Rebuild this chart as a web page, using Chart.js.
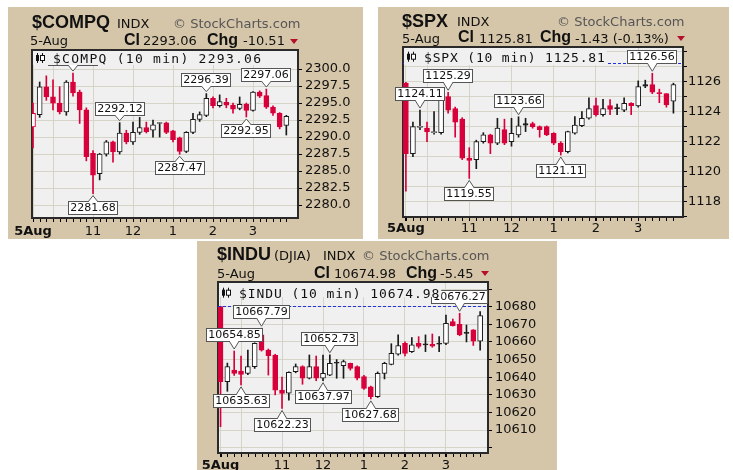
<!DOCTYPE html>
<html>
<head>
<meta charset="UTF-8">
<title>Intraday 10 min candles</title>
<script src="https://cdn.jsdelivr.net/npm/chart.js"></script>
<style>
  body { margin: 0; background: #fff; width: 733px; height: 470px; position: relative; overflow: hidden; }
  .panel { position: absolute; background: #D6C6A9; overflow: hidden; }
  .panel canvas { position: absolute; left: 0; top: 0; }
  .t { position: absolute; white-space: pre; font-family: "DejaVu Sans"; font-size: 13px; line-height: 13px; color: #111; }
  .b { font-family: "Liberation Sans", Arial; font-weight: bold; }
  .sym { font-size: 18px; line-height: 18px; }
  .lab { font-size: 16px; line-height: 16px; }
  .wm { color: #555; }
  .tri { position: absolute; width: 0; height: 0; border-left: 4px solid transparent; border-right: 4px solid transparent; border-top: 5px solid #B4102E; }
</style>
</head>
<body>

<div class="panel" style="left:8px;top:7px;width:355px;height:232px">
  <canvas id="compqChart" width="355" height="232"></canvas>
  <span class="t b sym" style="left:24px;top:6px">$COMPQ</span>
  <span class="t" style="left:109px;top:10px">INDX</span>
  <span class="t wm" style="left:165px;top:10px">© StockCharts.com</span>
  <span class="t" style="left:22px;top:27px">5-Aug</span>
  <span class="t b lab" style="left:116px;top:24.5px">Cl</span>
  <span class="t" style="left:135px;top:27px">2293.06</span>
  <span class="t b lab" style="left:199px;top:24.5px">Chg</span>
  <span class="t" style="left:235px;top:27px">-10.51</span>
  <i class="tri" style="left:282px;top:32px"></i>
</div>

<div class="panel" style="left:378px;top:7px;width:351px;height:232px">
  <canvas id="spxChart" width="351" height="232"></canvas>
  <span class="t b sym" style="left:24px;top:5px">$SPX</span>
  <span class="t" style="left:79px;top:8px">INDX</span>
  <span class="t wm" style="left:179px;top:8px">© StockCharts.com</span>
  <span class="t" style="left:24px;top:24.5px">5-Aug</span>
  <span class="t b lab" style="left:80px;top:22px">Cl</span>
  <span class="t" style="left:101px;top:24.5px">1125.81</span>
  <span class="t b lab" style="left:162px;top:22px">Chg</span>
  <span class="t" style="left:197px;top:24.5px">-1.43 (-0.13%)</span>
  <i class="tri" style="left:299px;top:29px"></i>
</div>

<div class="panel" style="left:197px;top:241px;width:360px;height:229px">
  <canvas id="induChart" width="360" height="229"></canvas>
  <span class="t b sym" style="left:20px;top:4px">$INDU</span>
  <span class="t" style="left:77px;top:8px">(DJIA)</span>
  <span class="t" style="left:126px;top:8px">INDX</span>
  <span class="t wm" style="left:165px;top:8px">© StockCharts.com</span>
  <span class="t" style="left:20px;top:26px">5-Aug</span>
  <span class="t b lab" style="left:117px;top:23.5px">Cl</span>
  <span class="t" style="left:137px;top:26px">10674.98</span>
  <span class="t b lab" style="left:209px;top:23.5px">Chg</span>
  <span class="t" style="left:243px;top:26px">-5.45</span>
  <i class="tri" style="left:284px;top:30px"></i>
</div>

<script>
// 10 minute bars, 5 Aug
const barTimes = ['9:30','9:40','9:50','10:00','10:10','10:20','10:30','10:40','10:50','11:00',
  '11:10','11:20','11:30','11:40','11:50','12:00','12:10','12:20','12:30','12:40',
  '12:50','13:00','13:10','13:20','13:30','13:40','13:50','14:00','14:10','14:20',
  '14:30','14:40','14:50','15:00','15:10','15:20','15:30','15:40','15:50'];
const xTickTimes = ['9:30','10:00','11:00','12:00','13:00','14:00','15:00'];
const xTickLabels = ['5Aug','','11','12','1','2','3'];

// $COMPQ
const compqOpen = [2291.5,2293.3,2297.4,2295.9,2295.0,2293.7,2298.1,2296.6,2294.0,2287.6,
  2284.6,2287.5,2289.3,2287.8,2290.6,2289.3,2290.7,2291.4,2291.0,2292.0,
  2292.1,2290.9,2289.9,2287.9,2290.7,2292.6,2293.2,2295.7,2294.6,2295.1,
  2294.7,2294.2,2294.8,2293.9,2296.6,2296.1,2294.4,2293.5,2291.7];
const compqHigh = [2295.0,2298.1,2299.0,2298.4,2297.4,2298.3,2299.41,2296.9,2294.3,2288.0,
  2287.6,2289.5,2289.4,2292.12,2291.0,2292.2,2292.9,2292.2,2292.5,2292.1,
  2292.2,2291.0,2290.0,2290.8,2293.5,2293.7,2296.39,2295.9,2296.2,2295.7,
  2295.0,2295.9,2295.0,2296.7,2296.8,2297.06,2294.6,2293.6,2293.2];
const compqLow = [2288.4,2292.9,2295.4,2294.0,2293.4,2293.2,2296.0,2292.0,2286.5,2281.68,
  2283.7,2287.2,2286.3,2287.5,2289.0,2288.9,2290.4,2290.6,2290.0,2290.0,
  2290.5,2289.3,2287.47,2287.7,2290.5,2292.3,2293.0,2294.3,2294.4,2294.3,
  2293.5,2294.0,2292.95,2293.8,2295.8,2294.2,2293.2,2291.2,2290.3];
const compqClose = [2293.5,2297.4,2295.9,2295.0,2293.7,2298.1,2296.5,2294.0,2287.1,2284.4,
  2287.5,2289.3,2287.8,2290.6,2289.3,2290.7,2291.4,2290.8,2291.8,2292.1,
  2290.7,2289.6,2287.9,2290.7,2292.6,2293.3,2295.7,2294.6,2295.2,2294.7,
  2294.1,2294.8,2293.9,2296.6,2296.0,2294.4,2293.5,2291.5,2293.06];
const compqPrevClose = 2303.57;
const compqGrid = [2280.0,2282.5,2285.0,2287.5,2290.0,2292.5,2295.0,2297.5,2300.0];
const compqLabels = [2280.0,2282.5,2285.0,2287.5,2290.0,2292.5,2295.0,2297.5,2300.0];
const compqNoteBars = [6,9,13,22,26,32,35];
const compqNoteValues = [2299.41,2281.68,2292.12,2287.47,2296.39,2292.95,2297.06];

// $SPX
const spxOpen = [1125.9,1121.2,1122.95,1122.9,1122.6,1122.6,1125.0,1124.2,1123.5,1120.9,
  1120.8,1122.0,1122.45,1121.9,1122.8,1122.0,1122.45,1123.2,1123.2,1123.0,
  1123.0,1122.56,1121.9,1121.33,1122.56,1123.07,1123.56,1124.4,1123.8,1124.4,
  1124.2,1124.1,1124.56,1124.38,1125.8,1125.8,1125.25,1125.2,1124.7];
const spxHigh = [1125.95,1123.3,1124.11,1123.3,1124.0,1125.25,1125.29,1124.3,1123.6,1121.6,
  1122.1,1122.6,1122.5,1123.56,1123.5,1123.56,1123.66,1123.56,1123.3,1123.05,
  1123.05,1122.6,1122.0,1122.7,1123.67,1124.0,1124.93,1124.9,1124.83,1124.8,
  1124.5,1124.93,1124.6,1126.05,1126.1,1126.56,1125.5,1125.2,1125.9];
const spxLow = [1118.7,1121.0,1122.8,1122.0,1122.5,1122.5,1123.9,1122.3,1120.8,1119.55,
  1120.2,1121.9,1121.2,1121.8,1121.8,1121.7,1122.3,1122.67,1122.9,1122.3,
  1122.4,1121.8,1121.11,1121.25,1122.5,1123.0,1123.5,1123.7,1123.7,1123.8,
  1123.8,1124.0,1123.8,1124.3,1125.6,1125.2,1124.6,1124.3,1123.9];
const spxClose = [1121.2,1123.0,1123.0,1122.65,1122.65,1125.2,1124.1,1123.3,1120.9,1120.75,
  1122.0,1122.45,1121.9,1122.9,1121.9,1122.56,1123.05,1123.1,1123.0,1122.8,
  1122.45,1121.9,1121.33,1122.67,1123.1,1123.56,1124.2,1123.8,1124.2,1124.15,
  1124.2,1124.56,1124.4,1125.67,1125.7,1125.3,1125.2,1124.45,1125.81];
const spxPrevClose = 1127.24;
const spxGrid = [1117,1118,1119,1120,1121,1122,1123,1124,1125,1126,1127,1128];
const spxLabels = [1118,1120,1122,1124,1126];
const spxNoteBars = [2,6,9,16,22,35];
const spxNoteValues = [1124.11,1125.29,1119.55,1123.66,1121.11,1126.56];

// $INDU
const induOpen = [10680.0,10637.4,10644.1,10643.5,10642.2,10646.0,10664.0,10655.4,10652.6,10632.7,
  10630.9,10643.1,10646.0,10639.4,10646.0,10639.4,10641.2,10648.3,10646.5,10647.9,
  10646.0,10640.3,10634.6,10629.0,10642.2,10647.3,10653.0,10659.2,10654.5,10659.2,
  10658.3,10658.6,10658.7,10659.2,10671.5,10670.0,10664.9,10666.8,10660.5];
const induHigh = [10680.2,10648.0,10654.85,10652.0,10655.4,10659.5,10667.79,10656.0,10653.0,10640.0,
  10643.0,10647.5,10646.5,10652.6,10652.0,10652.6,10652.73,10650.0,10649.7,10648.0,
  10646.5,10641.0,10635.0,10643.0,10648.5,10659.0,10664.0,10660.0,10662.5,10663.0,
  10664.0,10664.5,10663.0,10675.3,10673.0,10676.27,10669.6,10667.0,10677.2];
const induLow = [10611.9,10632.0,10641.0,10635.63,10641.5,10645.0,10654.8,10641.2,10630.0,10622.23,
  10627.0,10642.5,10636.0,10639.0,10638.0,10637.97,10640.8,10639.4,10639.4,10644.0,
  10638.5,10633.0,10627.68,10628.5,10639.0,10647.0,10652.5,10652.0,10654.0,10656.5,
  10654.5,10657.0,10654.5,10658.5,10669.0,10663.5,10660.0,10658.0,10655.4];
const induClose = [10637.4,10646.0,10642.2,10641.6,10646.0,10659.2,10655.4,10652.2,10632.7,10630.8,
  10642.8,10646.0,10639.4,10646.0,10639.4,10642.2,10647.9,10647.9,10648.8,10645.0,
  10639.4,10633.7,10628.9,10642.2,10647.9,10653.5,10657.9,10653.5,10658.3,10657.4,
  10658.3,10657.6,10658.7,10670.6,10669.2,10664.0,10664.9,10660.5,10674.98];
const induPrevClose = 10680.43;
const induGrid = [10600,10610,10620,10630,10640,10650,10660,10670,10680,10690];
const induLabels = [10610,10620,10630,10640,10650,10660,10670,10680];
const induNoteBars = [2,3,6,9,15,16,22,35];
const induNoteValues = [10654.85,10635.63,10667.79,10622.23,10637.97,10652.73,10627.68,10676.27];

const RED = '#D8003A', INK = '#1A1A1A', GRID = '#D6D3C7', PLOT_BG = '#F0F0F0', FRAME = '#2A2A2A';

function minutesOf(t) {
  const p = t.split(':');
  return (+p[0]) * 60 + (+p[1]) - 570;
}

function drawNote(c, x, y, text, above, gap) {
  c.font = '11px "DejaVu Sans"';
  const w = Math.round(c.measureText(text).width) + 5, h = 14;
  const bx = Math.round(x - w / 2);
  const by = Math.round(above ? y - gap - h : y + gap);
  c.fillStyle = '#fff';
  c.strokeStyle = '#555';
  c.lineWidth = 1;
  c.fillRect(bx, by, w, h);
  c.strokeRect(bx + 0.5, by + 0.5, w - 1, h - 1);
  // pointer tail
  const e = above ? by + h - 1 : by + 1;
  const tip = above ? y - 2 : y + 2;
  c.beginPath();
  c.moveTo(x - 5, e); c.lineTo(x, tip); c.lineTo(x + 5, e); c.closePath();
  c.fill();
  c.beginPath();
  c.moveTo(x - 5, e); c.lineTo(x, tip); c.lineTo(x + 5, e);
  c.stroke();
  c.fillStyle = '#111';
  c.textAlign = 'center';
  c.textBaseline = 'middle';
  c.fillText(text, bx + w / 2, by + h / 2 + 0.5);
}

function drawIcon(c, x, base) {
  c.fillStyle = '#111';
  c.fillRect(x + 1, base - 10, 1, 10);
  c.fillRect(x, base - 8, 3, 6);
  c.fillRect(x + 6, base - 10, 1, 10);
  c.fillStyle = '#fff';
  c.fillRect(x + 4.5, base - 7.5, 4, 5);
  c.strokeStyle = '#111';
  c.lineWidth = 1;
  c.strokeRect(x + 4.5, base - 7.5, 4, 5);
}

function candleChart(id, name, s, L) {
  const xs = barTimes.map(minutesOf);
  const prevOf = i => i === 0 ? s.prevClose : s.close[i - 1];
  const colorOf = i => (i === undefined || s.close[i] >= prevOf(i)) ? INK : RED;
  const hollowOf = i => i !== undefined && s.close[i] > s.open[i];

  const overlay = {
    id: 'overlay_' + id,
    beforeDraw(chart) {
      const a = chart.chartArea, c = chart.ctx;
      c.save();
      c.fillStyle = PLOT_BG;
      c.fillRect(a.left, a.top, a.right - a.left, a.bottom - a.top);
      c.restore();
    },
    beforeDatasetsDraw(chart) {
      const a = chart.chartArea, c = chart.ctx, xsc = chart.scales.x;
      c.save();
      c.strokeStyle = FRAME;
      c.lineWidth = 2;
      c.strokeRect(a.left, a.top, a.right - a.left, a.bottom - a.top);
      c.lineWidth = 1;
      c.strokeStyle = '#000';
      c.beginPath();
      xs.forEach(m => {
        const px = Math.round(xsc.getPixelForValue(m)) + 0.5;
        c.moveTo(px, a.bottom + 1);
        c.lineTo(px, a.bottom + 4);
      });
      c.stroke();
      c.restore();
    },
    afterDatasetsDraw(chart) {
      const a = chart.chartArea, c = chart.ctx, xsc = chart.scales.x, ysc = chart.scales.y;
      c.save();
      // previous close
      const py = Math.round(ysc.getPixelForValue(s.prevClose)) + 0.5;
      if (py > a.top && py < a.bottom) {
        c.strokeStyle = '#2233DD';
        c.lineWidth = 1;
        c.setLineDash([3, 2]);
        c.beginPath();
        c.moveTo(a.left, py);
        c.lineTo(a.right, py);
        c.stroke();
        c.setLineDash([]);
      }
      // high / low notes
      s.noteBars.forEach((b, k) => {
        const v = s.noteValues[k];
        const above = Math.abs(v - s.high[b]) <= Math.abs(v - s.low[b]);
        drawNote(c, xsc.getPixelForValue(xs[b]), ysc.getPixelForValue(v), v.toFixed(2), above, L.gap);
      });
      // legend line
      const text = name + ' (10 min) ' + s.close[s.close.length - 1].toFixed(2);
      const tx = a.left + 21, base = a.top + L.legBase;
      c.fillStyle = PLOT_BG;
      c.fillRect(a.left + 1, a.top + 1, 21 + text.length * L.adv, L.legH);
      drawIcon(c, a.left + 4, base);
      c.fillStyle = '#111';
      c.font = '13px "DejaVu Sans Mono"';
      c.textAlign = 'left';
      c.textBaseline = 'alphabetic';
      for (let i = 0; i < text.length; i++) c.fillText(text[i], tx + i * L.adv, base);
      c.restore();
    }
  };

  new Chart(document.getElementById(id), {
    type: 'bar',
    data: {
      datasets: [
        {
          label: 'body', order: 1, grouped: false,
          barThickness: 5, maxBarThickness: 5, minBarLength: 1,
          borderWidth: 1, borderSkipped: false,
          data: xs.map((m, i) => ({ x: m, y: [s.open[i], s.close[i]] })),
          backgroundColor: c => hollowOf(c.dataIndex) ? '#fff' : colorOf(c.dataIndex),
          borderColor: c => colorOf(c.dataIndex)
        },
        {
          label: 'wick', order: 2, grouped: false,
          barThickness: 1, maxBarThickness: 1, borderWidth: 0,
          data: xs.map((m, i) => ({ x: m, y: [s.low[i], s.high[i]] })),
          backgroundColor: c => colorOf(c.dataIndex)
        }
      ]
    },
    options: {
      animation: false,
      responsive: false,
      devicePixelRatio: 1,
      layout: { padding: { left: L.padL, top: L.padT, right: 0, bottom: 0 } },
      plugins: { legend: { display: false }, tooltip: { enabled: false } },
      scales: {
        x: {
          type: 'linear', min: L.xMin, max: L.xMax, offset: false, bounds: 'data',
          afterBuildTicks: sc => { sc.ticks = xTickTimes.map(t => ({ value: minutesOf(t) })); },
          afterFit: sc => { sc.height = L.xH; },
          grid: { offset: false, color: GRID, tickColor: '#000', tickLength: 4 },
          border: { display: false },
          ticks: {
            autoSkip: false, maxRotation: 0, padding: L.xPad, color: '#111',
            font: c => ({ family: 'DejaVu Sans', size: 13, weight: c.index === 0 ? 'bold' : 'normal' }),
            callback: (v, i) => xTickLabels[i]
          }
        },
        y: {
          position: 'right', min: L.yMin, max: L.yMax, bounds: 'data',
          afterBuildTicks: sc => { sc.ticks = s.grid.map(v => ({ value: v })); },
          afterFit: sc => { sc.width = L.yW; },
          grid: { color: GRID, tickColor: '#000', tickLength: 4 },
          border: { display: false },
          ticks: {
            autoSkip: false, padding: L.yPad, color: '#111',
            font: { family: 'DejaVu Sans', size: 13 },
            callback: v => s.labels.indexOf(v) >= 0 ? s.fmt(v) : ''
          }
        }
      }
    },
    plugins: [overlay]
  });
}

candleChart('compqChart', '$COMPQ', {
  open: compqOpen, high: compqHigh, low: compqLow, close: compqClose, prevClose: compqPrevClose,
  grid: compqGrid, labels: compqLabels, fmt: v => v.toFixed(1),
  noteBars: compqNoteBars, noteValues: compqNoteValues
}, { padL: 24, padT: 43, yW: 65, xH: 21, xMin: -1.5, xMax: 397.5, yMin: 2278.1, yMax: 2302.8,
     xPad: 2, yPad: 3, gap: 7, legBase: 13, legH: 14, adv: 9.1 });

candleChart('spxChart', '$SPX', {
  open: spxOpen, high: spxHigh, low: spxLow, close: spxClose, prevClose: spxPrevClose,
  grid: spxGrid, labels: spxLabels, fmt: v => String(v),
  noteBars: spxNoteBars, noteValues: spxNoteValues
}, { padL: 25, padT: 40, yW: 46, xH: 22, xMin: -4.1, xMax: 393.6, yMin: 1116.98, yMax: 1128.31,
     xPad: 0, yPad: 1, gap: 9, legBase: 14.7, legH: 17, adv: 8.65 });

candleChart('induChart', '$INDU', {
  open: induOpen, high: induHigh, low: induLow, close: induClose, prevClose: induPrevClose,
  grid: induGrid, labels: induLabels, fmt: v => String(v),
  noteBars: induNoteBars, noteValues: induNoteValues
}, { padL: 21, padT: 41, yW: 69, xH: 17, xMin: -3.7, xMax: 391.5, yMin: 10597, yMax: 10694,
     xPad: 1, yPad: 3, gap: 9, legBase: 15.7, legH: 14, adv: 8.75 });
</script>
</body>
</html>
